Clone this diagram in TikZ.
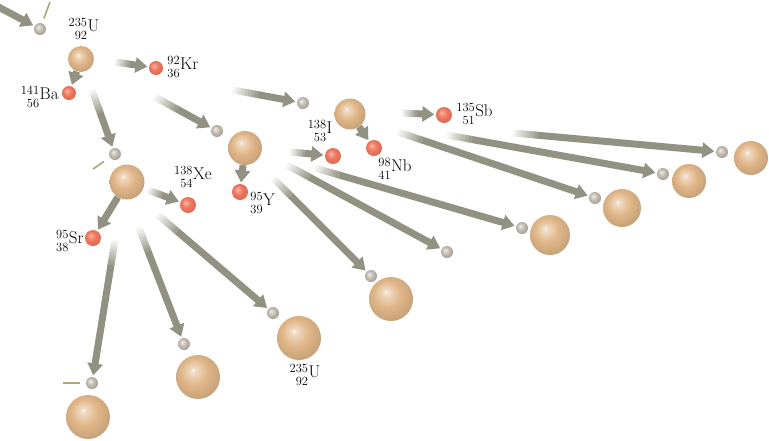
\documentclass[tikz,border=0pt]{standalone}
\usepackage{tikz}
\usetikzlibrary{positioning,calc,arrows.meta}

\definecolor{ubody}{RGB}{224,182,136}
\definecolor{nbody}{RGB}{194,186,175}
\definecolor{fbody}{RGB}{238,118,92}
\definecolor{flowgray}{RGB}{146,146,130}
\definecolor{tracegreen}{RGB}{170,168,118}

\pgfdeclareradialshading{uball}{\pgfpoint{-6bp}{8bp}}{color(0bp)=(ubody!15!white); color(3bp)=(ubody!50!white); color(15bp)=(ubody); color(36bp)=(ubody!82!black); color(50bp)=(ubody!82!black)}
\pgfdeclareradialshading{nball}{\pgfpoint{-8bp}{8bp}}{color(0bp)=(nbody!10!white); color(3bp)=(nbody!45!white); color(15bp)=(nbody); color(36bp)=(nbody!75!black); color(50bp)=(nbody!75!black)}
\pgfdeclareradialshading{fball}{\pgfpoint{-8bp}{8bp}}{color(0bp)=(fbody!30!white); color(3bp)=(fbody!65!white); color(15bp)=(fbody); color(36bp)=(fbody!85!black); color(50bp)=(fbody!85!black)}

\newcommand{\nuclide}[3]{\raisebox{-8pt}{\fontsize{12.5}{13}\selectfont\begin{tabular}[b]{@{}r@{}}#1\\#2\end{tabular}}\kern0.5pt#3}

% arrow whose tail fades in from white
\newcommand{\flow}[2]{%
  \path let \p1=($(#2)-(#1)$) in
    \pgfextra{\pgfmathsetmacro\fl{min(25,0.35*veclen(\x1,\y1))}\xdef\fadelen{\fl}};
  \draw[flowline] ($(#1)!\fadelen pt!(#2)$) -- (#2);
  \foreach \i [evaluate=\i as \tint using {int(10+11*\i)},
               evaluate=\i as \da using {\i*\fadelen/8},
               evaluate=\i as \db using {(\i+1.2)*\fadelen/8}] in {0,...,7}
    \draw[flowtail,draw=flowgray!\tint!white] ($(#1)!\da pt!(#2)$) -- ($(#1)!\db pt!(#2)$);
}

\begin{document}
\begin{tikzpicture}[x=1pt,y=-1pt,
    uranium/.style={circle,inner sep=0pt,minimum size=#1,shade,shading=uball},
    uranium/.default=44pt,
    neutron/.style={circle,inner sep=0pt,minimum size=12pt,shade,shading=nball},
    fragment/.style={circle,inner sep=0pt,minimum size=#1,shade,shading=fball},
    fragment/.default=16pt,
    flowline/.style={draw=flowgray,line width=7pt,-{Triangle[length=12pt,width=15pt]},shorten >=1.5pt},
    flowtail/.style={line width=7pt},
    trace/.style={draw=tracegreen,line width=1.6pt},
    nuclabel/.style={inner sep=0pt,font=\fontsize{17}{19}\selectfont}]

\useasboundingbox (0,0) rectangle (769,440);

\node[uranium=26pt] (u1) at (81,59) {};
\node[uranium=35pt] (u2) at (127,182) {};
\node[uranium=34pt] (u3) at (245,148) {};
\node[uranium=31pt] (u4) at (350,114) {};
\node[uranium] (u5) at (391,299) {};
\node[uranium=40pt] (u6) at (550,235) {};
\node[uranium=38pt] (u7) at (622,208) {};
\node[uranium=34pt] (u8) at (689,181) {};
\node[uranium=34pt] (u9) at (751,158) {};
\node[uranium] (u10) at (198,377) {};
\node[uranium] (u11) at (299,338) {};
\node[uranium] (u12) at (88,417) {};

\node[neutron] (n0) at (40,29) {};
\node[neutron] (n1) at (303,103) {};
\node[neutron] (n2) at (217,131) {};
\node[neutron] (n3) at (115,154) {};
\node[neutron] (n4) at (447,252) {};
\node[neutron] (n5) at (371,276) {};
\node[neutron] (n6) at (522,228) {};
\node[neutron] (n7) at (595,198) {};
\node[neutron] (n8) at (663,174) {};
\node[neutron] (n9) at (722,152) {};
\node[neutron] (n10) at (184,344) {};
\node[neutron] (n11) at (273,313) {};
\node[neutron] (n12) at (92,383) {};

\node[fragment=14pt] (ba) at (69,93) {};
\node[fragment=14pt] (kr) at (156,68) {};
\node[fragment] (xe) at (188,205) {};
\node[fragment] (sr) at (93,238) {};
\node[fragment] (yt) at (240,192) {};
\node[fragment] (io) at (333,156) {};
\node[fragment] (nb) at (374,148) {};
\node[fragment] (sb) at (444,115) {};

\coordinate (t0) at (50,2);
\coordinate (t3) at (93,169);
\coordinate (t12) at (63,383);
\draw[trace,shorten >=5pt] (t0) -- (n0);
\draw[trace,shorten >=7pt] (t3) -- (n3);
\draw[trace,shorten >=6pt] (t12) -- (n12);

\coordinate (s0) at (-26,-6);
\coordinate (s2) at (115,62);
\coordinate (s3) at (92,90);
\coordinate (s4) at (155,97);
\coordinate (s5) at (233,90);
\coordinate (s7) at (290,152);
\coordinate (s9) at (402,113);
\coordinate (s11) at (148,190);
\coordinate (s12) at (158,215);
\coordinate (s13) at (139,228);
\coordinate (s14) at (115,240);
\coordinate (s15) at (273,178);
\coordinate (s16) at (287,165);
\coordinate (s17) at (315,168);
\coordinate (s18) at (398,132);
\coordinate (s19) at (447,135);
\coordinate (s20) at (513,133);

\flow{s0}{n0}
\flow{s2}{kr}
\flow{s3}{n3}
\flow{s4}{n2}
\flow{s5}{n1}
\flow{s7}{io}
\flow{s9}{sb}
\flow{s11}{xe}
\flow{s12}{n11}
\flow{s13}{n10}
\flow{s14}{n12}
\flow{s15}{n5}
\flow{s16}{n4}
\flow{s17}{n6}
\flow{s18}{n7}
\flow{s19}{n8}
\flow{s20}{n9}

\draw[flowline] (u1) -- (ba);
\draw[flowline] (u2) -- (sr);
\draw[flowline] (u3) -- (yt);
\draw[flowline] (u4) -- (nb);

\node[nuclabel,above=2pt of u1,xshift=3pt] (lu1) {\nuclide{235}{92}{U}};
\node[nuclabel,left=3pt of ba,yshift=-5pt] (lba) {\nuclide{141}{56}{Ba}};
\node[nuclabel,right=4pt of kr] (lkr) {\nuclide{92}{36}{Kr}};
\node[nuclabel,above=5pt of xe,xshift=5pt] (lxe) {\nuclide{138}{54}{Xe}};
\node[nuclabel,left=1pt of sr,yshift=-4pt] (lsr) {\nuclide{95}{38}{Sr}};
\node[nuclabel,right=2pt of yt,yshift=-12pt] (lyt) {\nuclide{95}{39}{Y}};
\node[nuclabel,above=2pt of io,xshift=-13pt] (lio) {\nuclide{138}{53}{I}};
\node[nuclabel,below=1pt of nb,xshift=21pt] (lnb) {\nuclide{98}{41}{Nb}};
\node[nuclabel,right=4pt of sb] (lsb) {\nuclide{135}{51}{Sb}};
\node[nuclabel,below=3pt of u11,xshift=6pt] (lu11) {\nuclide{235}{92}{U}};

\end{tikzpicture}
\end{document}
